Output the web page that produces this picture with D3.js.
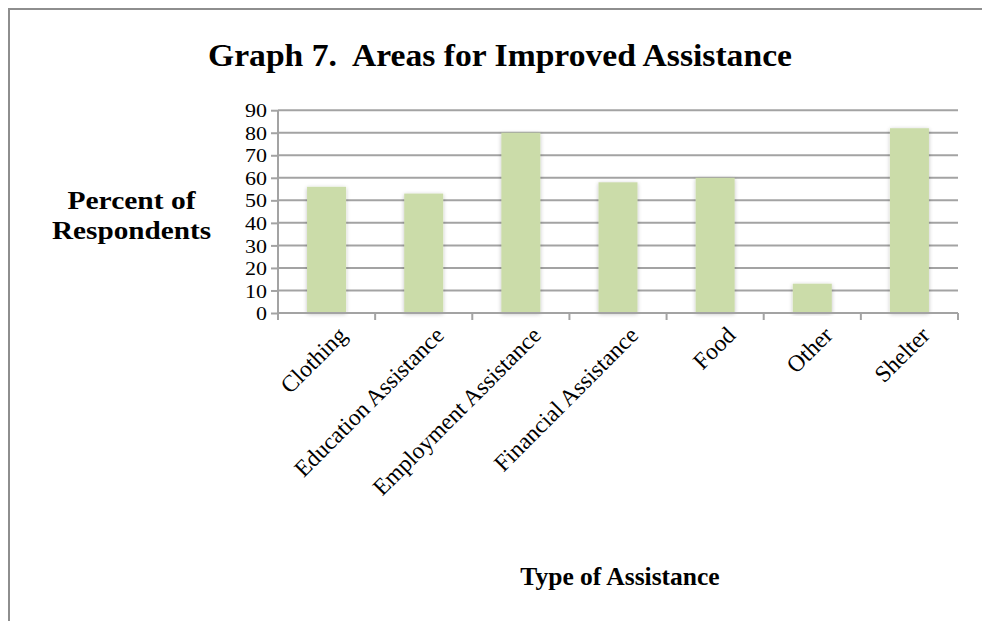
<!DOCTYPE html>
<html><head><meta charset="utf-8">
<script src="https://cdn.jsdelivr.net/npm/d3@7"></script>
<style>html,body{margin:0;padding:0;background:#fff;}svg{display:block;}</style>
</head><body>
<script>
const categories = ["Clothing","Education Assistance","Employment Assistance","Financial Assistance","Food","Other","Shelter"];
const values = [56,53,80,58,60,13,82];
const yTicks = [0,10,20,30,40,50,60,70,80,90];
const title = "Graph 7.  Areas for Improved Assistance";
const yTitle = ["Percent of","Respondents"];
const xTitle = "Type of Assistance";

const W = 982, H = 621;
const font = "'Liberation Serif', 'DejaVu Serif', serif";
const svg = d3.select("body").append("svg").attr("width",W).attr("height",H);

const defs = svg.append("defs");
const f = defs.append("filter").attr("id","sh").attr("x","-30%").attr("y","-10%").attr("width","160%").attr("height","120%");
f.append("feGaussianBlur").attr("in","SourceAlpha").attr("stdDeviation",2).attr("result","b");
f.append("feOffset").attr("in","b").attr("dx",0).attr("dy",1).attr("result","o");
f.append("feComponentTransfer").attr("in","o").attr("result","oa").append("feFuncA").attr("type","linear").attr("slope",0.25);
const m = f.append("feMerge"); m.append("feMergeNode").attr("in","oa"); m.append("feMergeNode").attr("in","SourceGraphic");

// frame
svg.append("path").attr("d",`M9,${H} L9,9 L${W},9`).attr("fill","none").attr("stroke","#8e8e8e").attr("stroke-width",2);

const xb = d3.scaleBand().domain(categories).range([278,958]);
const y = d3.scaleLinear().domain([0,90]).range([313,110.2]);

// gridlines
svg.append("g").selectAll("line").data(yTicks.filter(d=>d>0)).join("line")
  .attr("x1",278).attr("x2",958).attr("y1",d=>y(d)).attr("y2",d=>y(d))
  .attr("stroke","#a3a3a3").attr("stroke-width",2);

// bars
svg.append("g").selectAll("rect").data(values).join("rect")
  .attr("x",(d,i)=>xb(categories[i]) + xb.bandwidth()/2 - 19.5)
  .attr("width",39)
  .attr("y",d=>y(d)).attr("height",d=>y(0)-y(d))
  .attr("fill","#cbdca9").attr("filter","url(#sh)");

// y axis
const ya = svg.append("g").attr("transform","translate(278,0)")
  .call(d3.axisLeft(y).tickValues(yTicks).tickSize(7).tickPadding(4));
ya.select(".domain").attr("stroke","#a3a3a3").attr("stroke-width",2).attr("d",`M-0,${y(0)+7}V${y(90)}`);
ya.selectAll(".tick line").attr("stroke","#a3a3a3").attr("stroke-width",2);
ya.selectAll(".tick text").attr("font-family",font).attr("font-size",19.5).attr("fill","#000").attr("dy","0.34em")
  .attr("textLength",22).attr("lengthAdjust","spacingAndGlyphs");
ya.selectAll(".tick text").filter(d=>d===0).attr("textLength",11);

// x axis
const xa = svg.append("g").attr("transform",`translate(0,${y(0)})`)
  .call(d3.axisBottom(xb).tickSize(0).tickFormat(""));
xa.select(".domain").attr("stroke","#a3a3a3").attr("stroke-width",2).attr("d",`M278,0H958`);
const bounds = categories.map(c=>xb(c)).concat([958]);
xa.selectAll(".bnd").data(bounds).join("line").attr("class","bnd")
  .attr("x1",d=>d).attr("x2",d=>d).attr("y1",0).attr("y2",7)
  .attr("stroke","#a3a3a3").attr("stroke-width",2);

// category labels
svg.append("g").selectAll("text").data(categories).join("text")
  .attr("transform",c=>`translate(${xb(c)+xb.bandwidth()/2+10},${y(0)+12}) rotate(-45)`)
  .attr("text-anchor","end").attr("dy","0.7em")
  .attr("font-family",font).attr("font-size",23.5).attr("fill","#000")
  .text(c=>c);

// titles
svg.append("text").attr("x",500).attr("y",66).attr("text-anchor","middle")
  .attr("font-family",font).attr("font-weight","bold").attr("font-size",32)
  .attr("textLength",584).attr("lengthAdjust","spacingAndGlyphs")
  .style("white-space","pre").text(title);

const yTitleLen = [128,159];
svg.append("g").selectAll("text").data(yTitle).join("text")
  .attr("x",131.5).attr("y",(d,i)=>209+i*30).attr("text-anchor","middle")
  .attr("font-family",font).attr("font-weight","bold").attr("font-size",26).attr("fill","#000")
  .attr("textLength",(d,i)=>yTitleLen[i]).attr("lengthAdjust","spacingAndGlyphs")
  .text(d=>d);

svg.append("text").attr("x",620).attr("y",585).attr("text-anchor","middle")
  .attr("font-family",font).attr("font-weight","bold").attr("font-size",25.5).attr("fill","#000")
  .text(xTitle);
</script>
</body></html>
